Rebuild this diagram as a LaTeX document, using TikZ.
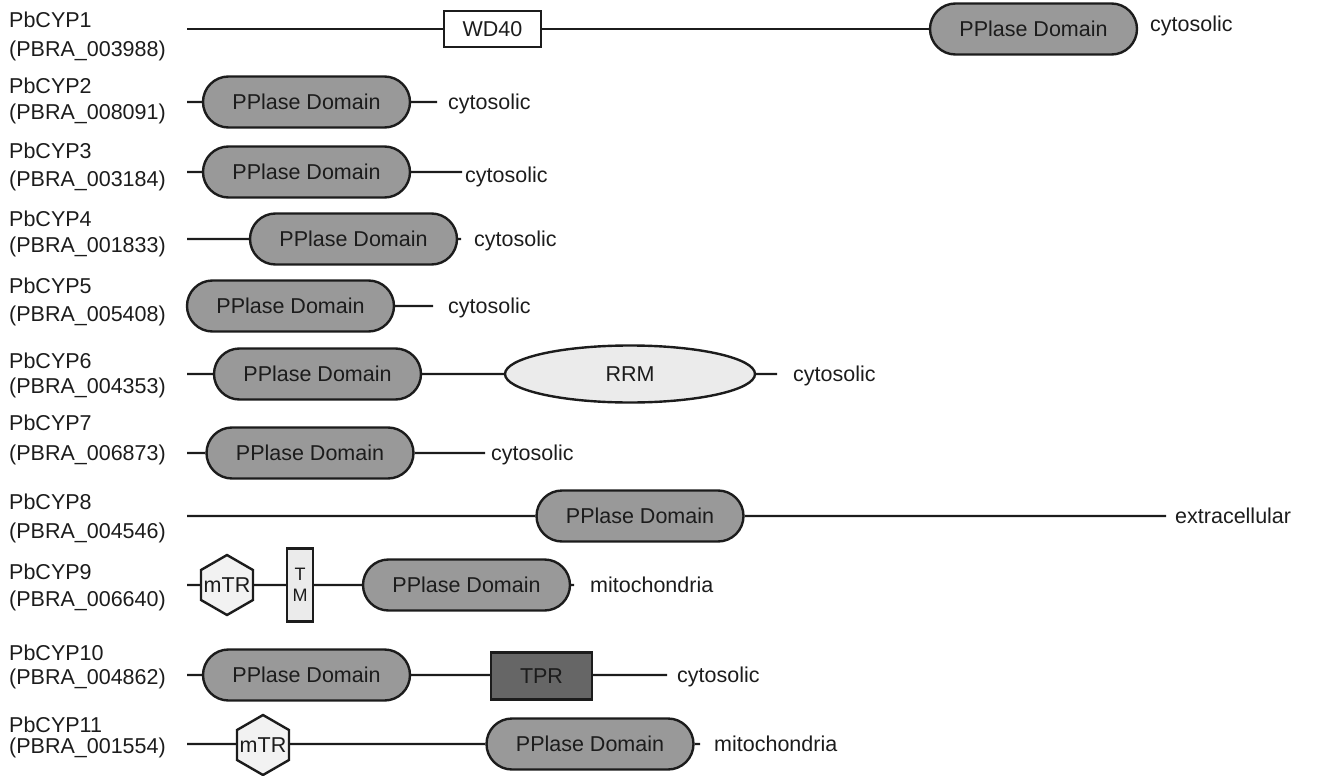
\documentclass[tikz,border=0pt]{standalone}
\usepackage{fontspec}
\setmainfont{Liberation Sans}
\usetikzlibrary{shapes.geometric,shapes.misc}
\definecolor{ink}{HTML}{1C1C1C}
\definecolor{pillgray}{HTML}{999999}
\definecolor{lightfill}{HTML}{EBEBEB}
\definecolor{hexfill}{HTML}{F2F2F2}
\definecolor{tprgray}{HTML}{666666}
\begin{document}
\begin{tikzpicture}[x=1pt,y=-1pt,
  every node/.style={font=\fontsize{21.5}{25}\selectfont, text=ink},
  link/.style={line width=2.4pt, draw=ink},
  pill/.style={rounded rectangle, draw=ink, line width=2.4pt, fill=pillgray,
    minimum width=207pt, minimum height=51pt, inner sep=0pt, text height=15pt, text depth=0pt},
  wdbox/.style={rectangle, draw=ink, line width=2.4pt, fill=white,
    minimum width=97pt, minimum height=36pt, inner sep=0pt, text height=15pt, text depth=0pt},
  tprbox/.style={rectangle, draw=ink, line width=2.4pt, fill=tprgray,
    minimum width=101pt, minimum height=47pt, inner sep=0pt, text height=15pt, text depth=0pt},
  tmbox/.style={rectangle, draw=ink, line width=2.4pt, fill=lightfill,
    minimum width=26pt, minimum height=73pt, inner sep=0pt, align=center,
    font=\fontsize{18}{21}\selectfont},
  rrm/.style={ellipse, draw=ink, line width=2.4pt, fill=lightfill,
    minimum width=250pt, minimum height=57pt, inner sep=0pt, text height=15pt, text depth=0pt},
  hexa/.style={regular polygon, regular polygon sides=6, shape border rotate=30,
    draw=ink, line width=2.4pt, fill=hexfill, minimum size=60pt, inner sep=0pt},
  lbl/.style={anchor=west, inner sep=0pt, text height=15pt, text depth=0pt},
  rtxt/.style={anchor=base west, inner sep=0pt}]
\useasboundingbox (0,0) rectangle (1320,776);

% labels
\node[lbl] (n1) at (9,20.5) {PbCYP1};  \node[lbl] (i1) at (9,48.7) {(PBRA\_003988)};
\node[lbl] (n2) at (9,86)   {PbCYP2};  \node[lbl] (i2) at (9,112)  {(PBRA\_008091)};
\node[lbl] (n3) at (9,151)  {PbCYP3};  \node[lbl] (i3) at (9,179)  {(PBRA\_003184)};
\node[lbl] (n4) at (9,219)  {PbCYP4};  \node[lbl] (i4) at (9,245)  {(PBRA\_001833)};
\node[lbl] (n5) at (9,286)  {PbCYP5};  \node[lbl] (i5) at (9,314)  {(PBRA\_005408)};
\node[lbl] (n6) at (9,361)  {PbCYP6};  \node[lbl] (i6) at (9,386)  {(PBRA\_004353)};
\node[lbl] (n7) at (9,423)  {PbCYP7};  \node[lbl] (i7) at (9,453)  {(PBRA\_006873)};
\node[lbl] (n8) at (9,502)  {PbCYP8};  \node[lbl] (i8) at (9,531)  {(PBRA\_004546)};
\node[lbl] (n9) at (9,572)  {PbCYP9};  \node[lbl] (i9) at (9,599)  {(PBRA\_006640)};
\node[lbl] (n10) at (9,653) {PbCYP10}; \node[lbl] (i10) at (9,677) {(PBRA\_004862)};
\node[lbl] (n11) at (9,725) {PbCYP11}; \node[lbl] (i11) at (9,746) {(PBRA\_001554)};

% row 1
\coordinate (s1) at (187,29);
\node[wdbox] (w1) at (492.5,29) {WD40};
\node[pill] (p1) at (1033.5,29) {PPlase Domain};
\draw[link] (s1) -- (w1) -- (p1);
\node[rtxt] (t1) at (1150,32) {cytosolic};

% row 2
\coordinate (s2) at (187,102); \coordinate (e2) at (437,102);
\node[pill] (p2) at (306.5,102) {PPlase Domain};
\draw[link] (s2) -- (p2) -- (e2);
\node[rtxt] (t2) at (448,109) {cytosolic};

% row 3
\coordinate (s3) at (187,172); \coordinate (e3) at (462,172);
\node[pill] (p3) at (306.5,172) {PPlase Domain};
\draw[link] (s3) -- (p3) -- (e3);
\node[rtxt] (t3) at (465,182) {cytosolic};

% row 4
\coordinate (s4) at (187,239); \coordinate (e4) at (461,239);
\node[pill] (p4) at (353.5,239) {PPlase Domain};
\draw[link] (s4) -- (p4) -- (e4);
\node[rtxt] (t4) at (474,246) {cytosolic};

% row 5
\coordinate (e5) at (433,306);
\node[pill] (p5) at (290.5,306) {PPlase Domain};
\draw[link] (p5) -- (e5);
\node[rtxt] (t5) at (448,313) {cytosolic};

% row 6
\coordinate (s6) at (187,374); \coordinate (e6) at (777,374);
\node[pill] (p6) at (317.5,374) {PPlase Domain};
\node[rrm] (r6) at (630,374) {RRM};
\draw[link] (s6) -- (p6) -- (r6) -- (e6);
\node[rtxt] (t6) at (793,381) {cytosolic};

% row 7
\coordinate (s7) at (187,453); \coordinate (e7) at (485,453);
\node[pill] (p7) at (310,453) {PPlase Domain};
\draw[link] (s7) -- (p7) -- (e7);
\node[rtxt] (t7) at (491,460) {cytosolic};

% row 8
\coordinate (s8) at (187,516); \coordinate (e8) at (1166,516);
\node[pill] (p8) at (640,516) {PPlase Domain};
\draw[link] (s8) -- (p8) -- (e8);
\node[rtxt] (t8) at (1175,523) {extracellular};

% row 9
\coordinate (s9) at (187,585); \coordinate (e9) at (574,585);
\node[hexa, label={[inner sep=0pt]center:mTR}] (h9) at (227,585) {};
\node[tmbox] (tm9) at (300,585) {T\\M};
\node[pill] (p9) at (466.5,585) {PPlase Domain};
\draw[link] (s9) -- (h9) -- (tm9) -- (p9) -- (e9);
\node[rtxt] (t9) at (590,592) {mitochondria};

% row 10
\coordinate (s10) at (187,675); \coordinate (e10) at (667,675);
\node[pill] (p10) at (306.5,675) {PPlase Domain};
\node[tprbox] (tpr10) at (541.5,676) {TPR};
\draw[link] (s10) -- (p10) -- (tpr10.west |- p10) (tpr10.east |- p10) -- (e10);
\node[rtxt] (t10) at (677,682) {cytosolic};

% row 11
\coordinate (s11) at (187,744); \coordinate (e11) at (700,744);
\node[hexa, label={[inner sep=0pt]center:mTR}] (h11) at (263,745) {};
\node[pill] (p11) at (590,744) {PPlase Domain};
\draw[link] (s11) -- (h11.west |- s11) (h11.east |- s11) -- (p11) -- (e11);
\node[rtxt] (t11) at (714,751) {mitochondria};
\end{tikzpicture}
\end{document}
